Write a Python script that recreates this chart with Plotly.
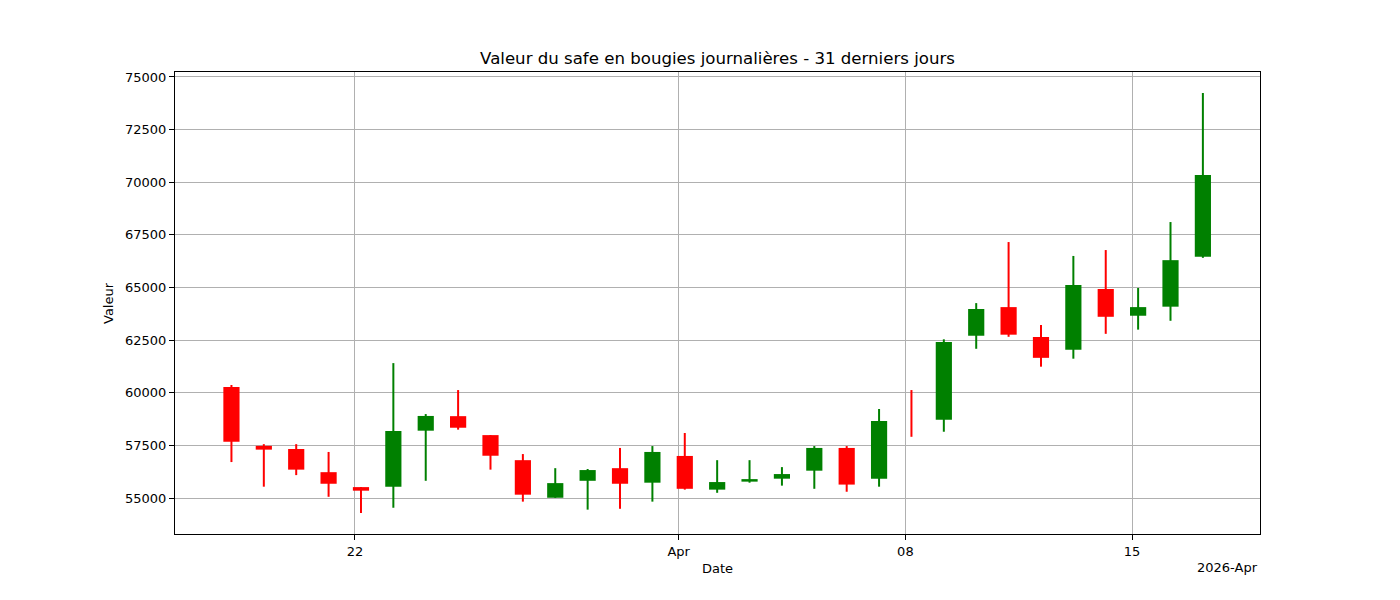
import pandas as pd
import plotly.graph_objects as go

# bougies journalieres (31 jours)
dates = pd.date_range("2026-03-18 04:30", periods=31, freq="D")
ouverture = [60270, 57480, 57330, 56230, 55520, 55540, 58200, 58890, 57990, 56800,
             55015, 55820, 56420, 55730, 57000, 55400, 55780, 55920, 56300, 57380,
             55920, 59000, 58720, 62710, 64070, 62650, 62040, 64930, 63660, 64090,
             66460]
cloture = [57680, 57300, 56350, 55680, 55350, 58180, 58900, 58340, 57010, 55160,
           55710, 56330, 55680, 57190, 55440, 55760, 55900, 56140, 57380, 55640,
           58660, 59000, 62410, 63980, 62760, 61660, 65120, 63610, 64070, 66300,
           70340]
haut = [60370, 57560, 57560, 57190, 55520, 61410, 58990, 60130, 57990, 57090,
        56420, 56380, 57380, 57470, 58090, 56800, 56800, 56470, 57470, 57470,
        59230, 60130, 62540, 64260, 67160, 63220, 66500, 66780, 64980, 68110,
        74240]
bas = [56710, 55540, 56090, 55060, 54290, 54540, 55820, 58250, 56350, 54830,
       55010, 54450, 54490, 54830, 55400, 55250, 55730, 55590, 55440, 55300,
       55540, 57910, 58150, 62090, 62660, 61240, 61620, 62800, 63000, 63420,
       66410]

x_ticks = ["2026-03-22", "2026-04-01", "2026-04-08", "2026-04-15"]
x_labels = ["22", "Apr", "08", "15"]
y_ticks = [55000, 57500, 60000, 62500, 65000, 67500, 70000, 72500, 75000]

VERT = "green"
ROUGE = "red"

couleurs = [VERT if c > o else ROUGE for o, c in zip(ouverture, cloture)]
corps_bas = [min(o, c) for o, c in zip(ouverture, cloture)]
corps_h = [abs(c - o) for o, c in zip(ouverture, cloture)]

fig = go.Figure()

# meches
for col in (VERT, ROUGE):
    wx, wy = [], []
    for d, h, b, c in zip(dates, haut, bas, couleurs):
        if c == col:
            wx += [d, d, None]
            wy += [b, h, None]
    fig.add_trace(go.Scatter(x=wx, y=wy, mode="lines",
                             line=dict(color=col, width=2),
                             showlegend=False, hoverinfo="skip"))

# corps
fig.add_trace(go.Bar(x=dates, y=corps_h, base=corps_bas,
                     width=0.5 * 86400000,
                     marker=dict(color=couleurs, line=dict(width=0)),
                     showlegend=False))

police = dict(family="DejaVu Sans", size=13, color="black")

fig.update_layout(
    width=1400, height=600,
    margin=dict(l=167, r=148, t=64, b=74),
    plot_bgcolor="white", paper_bgcolor="white",
    font=police,
    barmode="overlay",
    title=dict(text="Valeur du safe en bougies journalières - 31 derniers jours",
               x=0.5, xref="paper", xanchor="center",
               y=1 - 50 / 600, yref="container", yanchor="middle",
               font=dict(family="DejaVu Sans", size=16.6, color="black")),
    xaxis=dict(type="date", range=["2026-03-16 10:40", "2026-04-18 22:50"],
               tickvals=x_ticks, ticktext=x_labels,
               showgrid=True, gridcolor="#b0b0b0", gridwidth=1,
               showline=True, mirror=True, linecolor="black", linewidth=1,
               ticks="outside", ticklen=5, tickcolor="black", zeroline=False),
    yaxis=dict(range=[53293, 75237], tickvals=y_ticks, tickformat="d",
               showgrid=True, gridcolor="#b0b0b0", gridwidth=1,
               showline=True, mirror=True, linecolor="black", linewidth=1,
               ticks="outside", ticklen=5, tickcolor="black", zeroline=False),
    annotations=[
        dict(text="Date", x=0.5, y=0, xref="paper", yref="paper",
             xanchor="center", yanchor="top", yshift=-25, showarrow=False),
        dict(text="2026-Apr", x=1, y=0, xref="paper", yref="paper",
             xanchor="right", yanchor="top", yshift=-24, showarrow=False),
        dict(text="Valeur", x=0, y=0.5, xref="paper", yref="paper",
             xanchor="center", yanchor="middle", xshift=-67, textangle=-90,
             showarrow=False),
    ],
)

fig.write_html("out.html")
